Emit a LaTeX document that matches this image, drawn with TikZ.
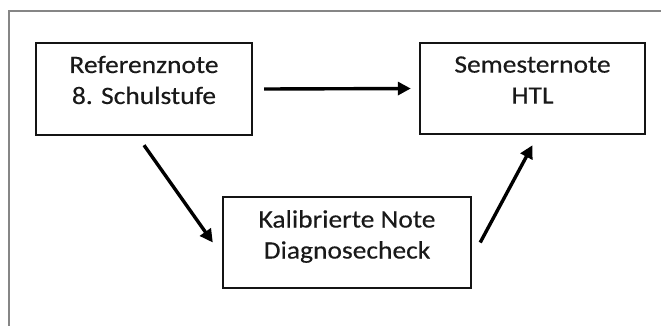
\documentclass[tikz,border=0pt]{standalone}
\usepackage{fontspec}
\setmainfont{Carlito}
\newfontfamily\heavyfont[FakeStretch=1.1,FakeBold=0.35]{Carlito}
\usetikzlibrary{arrows.meta,calc}
\begin{document}
\begin{tikzpicture}[x=1pt,y=1pt,
  box/.style={draw=black!92,line width=2.4pt,inner sep=0pt},
  lbl/.style={align=center,font=\heavyfont\fontsize{25}{31}\selectfont,text=black!90,inner sep=0pt},
  conn/.style={line width=3.4pt,-{Triangle[length=13pt,width=13pt]}}]
\useasboundingbox (0,0) rectangle (661,-325);
\clip (0,0) rectangle (661,-325);
\draw[gray!95,line width=1.6pt] (9,-11) rectangle (690,-345);
\node[box,minimum width=216pt,minimum height=92pt,label={[lbl,yshift=9pt]center:Referenznote\\8. Schulstufe}] (b1) at (144,-89) {};
\node[box,minimum width=225pt,minimum height=91pt,label={[lbl,yshift=8.5pt]center:Semesternote\\HTL}] (b2) at (532.5,-88.5) {};
\node[box,minimum width=248pt,minimum height=91pt,label={[lbl,yshift=6pt]center:Kalibrierte Note\\Diagnosecheck}] (b3) at (347,-242.5) {};
\draw[conn] ([xshift=11pt]b1.east) -- ([xshift=-8pt]b2.west);
\draw[conn] ([yshift=-9pt]b1.south) -- ([xshift=-9pt]b3.west);
\draw[conn] ([xshift=8pt]b3.east) -- ([yshift=-10pt]b2.south);
\end{tikzpicture}
\end{document}
